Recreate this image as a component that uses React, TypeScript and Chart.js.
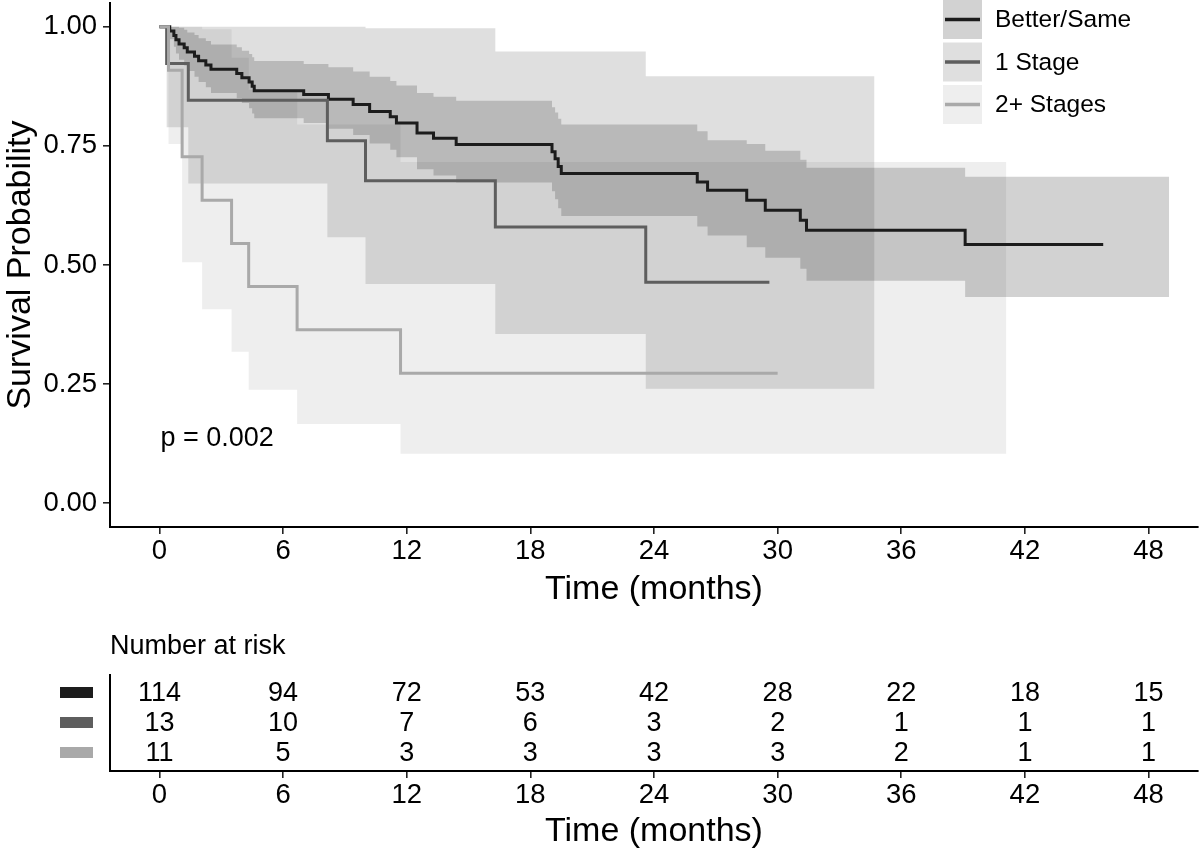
import React, { useEffect, useRef } from "react";
import { Chart, registerables } from "chart.js";

Chart.register(...registerables);

// ---------- data ----------
const groups = ["Better/Same", "1 Stage", "2+ Stages"];
const lineColors = ["#1c1c1c", "#5e5e5e", "#a9a9a9"];
const bandColors = ["rgba(28,28,28,0.2)", "rgba(94,94,94,0.2)", "rgba(169,169,169,0.2)"];

// Better/Same
const bsTime = [0, 0.5, 0.7, 0.8, 0.95, 1.2, 1.35, 1.7, 1.9, 2.25, 2.5, 3.75, 4.0, 4.35, 4.5, 4.6, 7.0, 8.2, 9.4, 10.2, 11.2, 11.5, 12.5, 13.3, 14.4, 19.05, 19.2, 19.35, 19.5, 26.1, 26.6, 28.5, 29.4, 31.1, 31.4, 39.1];
const bsSurv = [1, 0.991, 0.982, 0.973, 0.964, 0.956, 0.947, 0.938, 0.929, 0.92, 0.911, 0.902, 0.893, 0.884, 0.875, 0.866, 0.858, 0.848, 0.837, 0.822, 0.811, 0.798, 0.777, 0.766, 0.753, 0.738, 0.723, 0.707, 0.692, 0.674, 0.657, 0.636, 0.615, 0.594, 0.573, 0.543];
const bsUpper = [1, 1, 1, 1, 0.998, 0.994, 0.988, 0.983, 0.976, 0.97, 0.963, 0.957, 0.95, 0.943, 0.936, 0.928, 0.922, 0.915, 0.906, 0.895, 0.886, 0.877, 0.861, 0.853, 0.845, 0.831, 0.82, 0.807, 0.795, 0.781, 0.762, 0.754, 0.74, 0.721, 0.704, 0.685];
const bsLower = [1, 0.974, 0.958, 0.944, 0.931, 0.919, 0.907, 0.895, 0.884, 0.873, 0.861, 0.85, 0.84, 0.829, 0.818, 0.808, 0.798, 0.786, 0.773, 0.755, 0.742, 0.726, 0.701, 0.688, 0.673, 0.655, 0.638, 0.619, 0.603, 0.581, 0.562, 0.537, 0.515, 0.492, 0.467, 0.433];
const bsLineEnd = 45.8;
const bsBandEnd = 49.0;

// 1 Stage
const s1Time = [0, 0.35, 1.4, 8.15, 10.0, 16.3, 23.6];
const s1Surv = [1, 0.923, 0.846, 0.761, 0.677, 0.58, 0.464];
const s1Upper = [1, 1, 1, 1, 0.997, 0.948, 0.896];
const s1Lower = [1, 0.789, 0.671, 0.558, 0.46, 0.355, 0.24];
const s1LineEnd = 29.6;
const s1BandEnd = 34.7;

// 2+ Stages
const s2Time = [0, 0.44, 1.1, 2.07, 3.5, 4.33, 6.68, 11.7];
const s2Surv = [1, 0.909, 0.727, 0.636, 0.545, 0.455, 0.364, 0.273];
const s2Upper = [1, 1, 1, 0.995, 0.935, 0.868, 0.795, 0.716];
const s2Lower = [1, 0.754, 0.506, 0.407, 0.318, 0.238, 0.166, 0.104];
const s2LineEnd = 30.0;
const s2BandEnd = 41.1;

const xTicks = [0, 6, 12, 18, 24, 30, 36, 42, 48];
const yTicks = [0, 0.25, 0.5, 0.75, 1];
const pValueText = "p = 0.002";
const pValueAt = [0.05, 0.135];

// number at risk
const riskTimes = [0, 6, 12, 18, 24, 30, 36, 42, 48];
const riskBS = [114, 94, 72, 53, 42, 28, 22, 18, 15];
const risk1S = [13, 10, 7, 6, 3, 2, 1, 1, 1];
const risk2S = [11, 5, 3, 3, 3, 3, 2, 1, 1];

// ---------- helpers ----------
const FONT = '"Liberation Sans", Arial, Helvetica, sans-serif';
const TICK_SIZE = 27.5;
const TITLE_SIZE = 34;

function stepPoints(times: number[], vals: number[], end: number) {
  const pts = times.map((t, i) => ({ x: t, y: vals[i] }));
  pts.push({ x: end, y: vals[vals.length - 1] });
  return pts;
}

const groupData = [
  { time: bsTime, surv: bsSurv, up: bsUpper, lo: bsLower, lineEnd: bsLineEnd, bandEnd: bsBandEnd },
  { time: s1Time, surv: s1Surv, up: s1Upper, lo: s1Lower, lineEnd: s1LineEnd, bandEnd: s1BandEnd },
  { time: s2Time, surv: s2Surv, up: s2Upper, lo: s2Lower, lineEnd: s2LineEnd, bandEnd: s2BandEnd },
];

function zeroPad(s: any) {
  s.paddingTop = 0;
  s.paddingBottom = 0;
  s.paddingLeft = 0;
  s.paddingRight = 0;
}

function xScaleBase(height: number) {
  return {
    type: "linear" as const,
    min: -2.4,
    max: 50.4,
    afterBuildTicks: (s: any) => {
      s.ticks = xTicks.map((v) => ({ value: v }));
    },
    afterFit: (s: any) => {
      s.height = height;
      zeroPad(s);
    },
    ticks: {
      font: { family: FONT, size: TICK_SIZE },
      color: "#000",
      padding: 1,
      maxRotation: 0,
      autoSkip: false,
      callback: (v: any) => String(v),
    },
    grid: {
      display: true,
      drawOnChartArea: false,
      drawTicks: true,
      tickLength: 7,
      color: "#222",
      lineWidth: 1.6,
    },
    border: { display: true, color: "#000", width: 2 },
    title: {
      display: true,
      text: "Time (months)",
      font: { family: FONT, size: TITLE_SIZE },
      color: "#000",
      padding: { top: 0, bottom: 0 },
    },
  };
}

const kmDecor = {
  id: "kmDecor",
  afterDraw(chart: any) {
    const ctx = chart.ctx;
    const xs = chart.scales.x;
    const ys = chart.scales.y;
    ctx.save();
    // p value
    ctx.font = `27px ${FONT}`;
    ctx.fillStyle = "#000";
    ctx.textAlign = "left";
    ctx.textBaseline = "middle";
    ctx.fillText(pValueText, xs.getPixelForValue(pValueAt[0]), ys.getPixelForValue(pValueAt[1]));
    // legend
    const keyX = 943;
    const keyW = 39;
    const keyH = 39;
    const step = 42.5;
    groups.forEach((g, i) => {
      const top = i * step;
      ctx.fillStyle = "#fff";
      ctx.fillRect(keyX, top, keyW, keyH);
      ctx.fillStyle = bandColors[i];
      ctx.fillRect(keyX, top, keyW, keyH);
      ctx.strokeStyle = lineColors[i];
      ctx.lineWidth = 3.5;
      ctx.beginPath();
      ctx.moveTo(keyX + 2, top + keyH / 2);
      ctx.lineTo(keyX + keyW - 2, top + keyH / 2);
      ctx.stroke();
      ctx.fillStyle = "#000";
      ctx.font = `24.5px ${FONT}`;
      ctx.textAlign = "left";
      ctx.textBaseline = "middle";
      ctx.fillText(g, 995, top + keyH / 2 + 1);
    });
    ctx.restore();
  },
};

const riskRows = [riskBS, risk1S, risk2S];

const riskDecor = {
  id: "riskDecor",
  afterDatasetsDraw(chart: any) {
    const ctx = chart.ctx;
    const ys = chart.scales.y;
    ctx.save();
    ctx.fillStyle = "#000";
    ctx.font = `27px ${FONT}`;
    ctx.textAlign = "center";
    ctx.textBaseline = "middle";
    chart.data.datasets.forEach((ds: any, i: number) => {
      const meta = chart.getDatasetMeta(i);
      meta.data.forEach((el: any, j: number) => {
        ctx.fillText(String(riskRows[i][j]), el.x, el.y + 1);
      });
      const py = ys.getPixelForValue(3 - i);
      ctx.fillStyle = lineColors[i];
      ctx.fillRect(60, py - 6, 33, 11);
      ctx.fillStyle = "#000";
    });
    ctx.font = `27px ${FONT}`;
    ctx.textAlign = "left";
    ctx.textBaseline = "middle";
    ctx.fillText("Number at risk", chart.chartArea.left, 37);
    ctx.restore();
  },
};

export default function App() {
  const mainRef = useRef<HTMLCanvasElement | null>(null);
  const riskRef = useRef<HTMLCanvasElement | null>(null);

  useEffect(() => {
    const datasets: any[] = [];
    groupData.forEach((g, i) => {
      datasets.push({
        label: groups[i] + " upper",
        data: stepPoints(g.time, g.up, g.bandEnd),
        stepped: true,
        borderColor: "transparent",
        borderWidth: 0,
        pointRadius: 0,
        backgroundColor: bandColors[i],
        fill: "+1",
        order: 10,
      });
      datasets.push({
        label: groups[i] + " lower",
        data: stepPoints(g.time, g.lo, g.bandEnd),
        stepped: true,
        borderColor: "transparent",
        borderWidth: 0,
        pointRadius: 0,
        fill: false,
        order: 10,
      });
    });
    groupData.forEach((g, i) => {
      datasets.push({
        label: groups[i],
        data: stepPoints(g.time, g.surv, g.lineEnd),
        stepped: true,
        borderColor: lineColors[i],
        borderWidth: 3,
        pointRadius: 0,
        fill: false,
        order: 3 - i,
      });
    });

    const main = new Chart(mainRef.current as HTMLCanvasElement, {
      type: "line",
      data: { datasets },
      options: {
        responsive: false,
        maintainAspectRatio: false,
        animation: false,
        events: [],
        layout: { padding: { left: 0, right: 2, top: 3, bottom: 0 } },
        plugins: { legend: { display: false }, tooltip: { enabled: false } },
        scales: {
          x: xScaleBase(83) as any,
          y: {
            type: "linear",
            min: -0.05,
            max: 1.05,
            afterBuildTicks: (s: any) => {
              s.ticks = yTicks.map((v) => ({ value: v }));
            },
            afterFit: (s: any) => {
              s.width = 110;
              zeroPad(s);
            },
            ticks: {
              font: { family: FONT, size: TICK_SIZE },
              color: "#000",
              padding: 6,
              callback: (v: any) => Number(v).toFixed(2),
            },
            grid: {
              display: true,
              drawOnChartArea: false,
              drawTicks: true,
              tickLength: 7,
              color: "#222",
              lineWidth: 1.6,
            },
            border: { display: true, color: "#000", width: 2 },
            title: {
              display: true,
              text: "Survival Probability",
              font: { family: FONT, size: TITLE_SIZE },
              color: "#000",
              padding: { top: 0, bottom: 0 },
            },
          },
        },
      },
      plugins: [kmDecor],
    });

    const riskDatasets = riskRows.map((row, i) => ({
      label: groups[i],
      data: riskTimes.map((t) => ({ x: t, y: 3 - i })),
      showLine: false,
      pointRadius: 0,
      borderColor: "transparent",
    }));

    const risk = new Chart(riskRef.current as HTMLCanvasElement, {
      type: "line",
      data: { datasets: riskDatasets },
      options: {
        responsive: false,
        maintainAspectRatio: false,
        animation: false,
        events: [],
        layout: { padding: { left: 0, right: 2, top: 65, bottom: 0 } },
        plugins: { legend: { display: false }, tooltip: { enabled: false } },
        scales: {
          x: xScaleBase(81) as any,
          y: {
            type: "linear",
            min: 0.4,
            max: 3.6,
            afterFit: (s: any) => {
              s.width = 110;
              zeroPad(s);
            },
            ticks: { display: false },
            grid: { display: false },
            border: { display: true, color: "#000", width: 2 },
          },
        },
      },
      plugins: [riskDecor],
    });

    return () => {
      main.destroy();
      risk.destroy();
    };
  }, []);

  return (
    <div style={{ position: "absolute", left: 0, top: 0, width: 1200, height: 852, background: "#fff" }}>
      <canvas ref={mainRef} width={1200} height={610} style={{ display: "block", width: 1200, height: 610 }} />
      <canvas ref={riskRef} width={1200} height={242} style={{ display: "block", width: 1200, height: 242 }} />
    </div>
  );
}
